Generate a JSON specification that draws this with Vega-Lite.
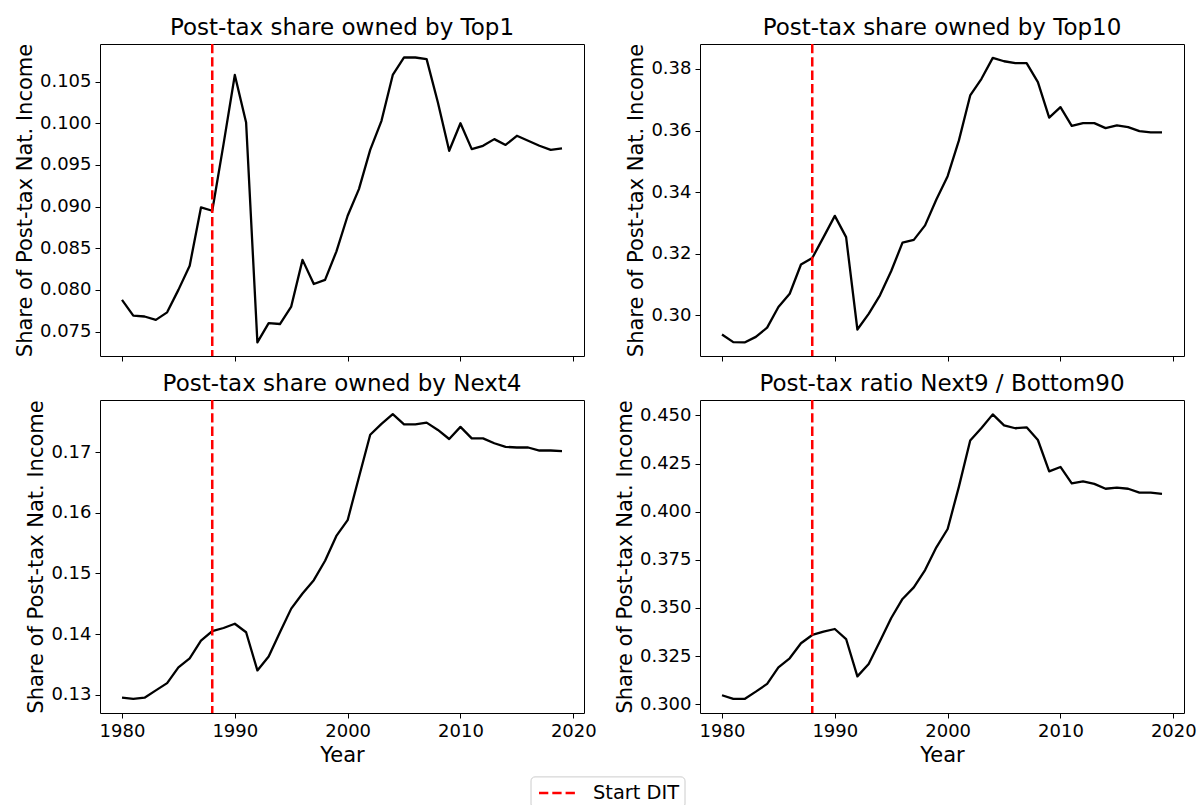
{
  "$schema": "https://vega.github.io/schema/vega-lite/v6.json",
  "padding": {"left": 13, "top": 16, "right": 5, "bottom": 0},
  "background": "white",
  "datasets": {
    "shares": [
      {"year": 1980, "top1": 0.0788, "top10": 0.2938, "next4": 0.1295, "ratio": 0.3047},
      {"year": 1981, "top1": 0.0769, "top10": 0.2913, "next4": 0.1293, "ratio": 0.3028},
      {"year": 1982, "top1": 0.0768, "top10": 0.2912, "next4": 0.1295, "ratio": 0.3028},
      {"year": 1983, "top1": 0.0764, "top10": 0.2930, "next4": 0.1307, "ratio": 0.3066},
      {"year": 1984, "top1": 0.0773, "top10": 0.2960, "next4": 0.1319, "ratio": 0.3106},
      {"year": 1985, "top1": 0.0800, "top10": 0.3027, "next4": 0.1345, "ratio": 0.3192},
      {"year": 1986, "top1": 0.0829, "top10": 0.3070, "next4": 0.1360, "ratio": 0.3239},
      {"year": 1987, "top1": 0.0899, "top10": 0.3165, "next4": 0.1389, "ratio": 0.3317},
      {"year": 1988, "top1": 0.0895, "top10": 0.3186, "next4": 0.1405, "ratio": 0.3360},
      {"year": 1989, "top1": 0.0975, "top10": 0.3254, "next4": 0.1410, "ratio": 0.3377},
      {"year": 1990, "top1": 0.1058, "top10": 0.3323, "next4": 0.1417, "ratio": 0.3391},
      {"year": 1991, "top1": 0.1001, "top10": 0.3254, "next4": 0.1403, "ratio": 0.3339},
      {"year": 1992, "top1": 0.0737, "top10": 0.2954, "next4": 0.1340, "ratio": 0.3145},
      {"year": 1993, "top1": 0.0760, "top10": 0.3005, "next4": 0.1363, "ratio": 0.3209},
      {"year": 1994, "top1": 0.0759, "top10": 0.3065, "next4": 0.1403, "ratio": 0.3327},
      {"year": 1995, "top1": 0.0780, "top10": 0.3144, "next4": 0.1442, "ratio": 0.3448},
      {"year": 1996, "top1": 0.0836, "top10": 0.3236, "next4": 0.1467, "ratio": 0.3547},
      {"year": 1997, "top1": 0.0807, "top10": 0.3245, "next4": 0.1489, "ratio": 0.3607},
      {"year": 1998, "top1": 0.0812, "top10": 0.3292, "next4": 0.1521, "ratio": 0.3697},
      {"year": 1999, "top1": 0.0846, "top10": 0.3376, "next4": 0.1562, "ratio": 0.3815},
      {"year": 2000, "top1": 0.0889, "top10": 0.3452, "next4": 0.1588, "ratio": 0.3910},
      {"year": 2001, "top1": 0.0921, "top10": 0.3568, "next4": 0.1659, "ratio": 0.4130},
      {"year": 2002, "top1": 0.0968, "top10": 0.3714, "next4": 0.1729, "ratio": 0.4369},
      {"year": 2003, "top1": 0.1003, "top10": 0.3768, "next4": 0.1747, "ratio": 0.4434},
      {"year": 2004, "top1": 0.1058, "top10": 0.3836, "next4": 0.1763, "ratio": 0.4505},
      {"year": 2005, "top1": 0.1079, "top10": 0.3825, "next4": 0.1746, "ratio": 0.4448},
      {"year": 2006, "top1": 0.1079, "top10": 0.3819, "next4": 0.1746, "ratio": 0.4433},
      {"year": 2007, "top1": 0.1077, "top10": 0.3819, "next4": 0.1749, "ratio": 0.4438},
      {"year": 2008, "top1": 0.1025, "top10": 0.3757, "next4": 0.1737, "ratio": 0.4372},
      {"year": 2009, "top1": 0.0967, "top10": 0.3642, "next4": 0.1722, "ratio": 0.4209},
      {"year": 2010, "top1": 0.1000, "top10": 0.3676, "next4": 0.1742, "ratio": 0.4232},
      {"year": 2011, "top1": 0.0969, "top10": 0.3615, "next4": 0.1723, "ratio": 0.4147},
      {"year": 2012, "top1": 0.0973, "top10": 0.3624, "next4": 0.1723, "ratio": 0.4157},
      {"year": 2013, "top1": 0.0981, "top10": 0.3624, "next4": 0.1715, "ratio": 0.4144},
      {"year": 2014, "top1": 0.0974, "top10": 0.3608, "next4": 0.1709, "ratio": 0.4119},
      {"year": 2015, "top1": 0.0985, "top10": 0.3617, "next4": 0.1708, "ratio": 0.4125},
      {"year": 2016, "top1": 0.0979, "top10": 0.3611, "next4": 0.1708, "ratio": 0.4119},
      {"year": 2017, "top1": 0.0973, "top10": 0.3598, "next4": 0.1703, "ratio": 0.4099},
      {"year": 2018, "top1": 0.0968, "top10": 0.3594, "next4": 0.1703, "ratio": 0.4099},
      {"year": 2019, "top1": 0.0970, "top10": 0.3594, "next4": 0.1702, "ratio": 0.4092}
    ],
    "events": [
      {"year": 1988, "event": "Start DIT"}
    ]
  },
  "config": {
    "font": "DejaVu Sans",
    "view": {"stroke": "black", "strokeWidth": 1},
    "axis": {
      "grid": false,
      "domain": false,
      "tickColor": "black",
      "tickSize": 5,
      "tickWidth": 1,
      "labelFont": "DejaVu Sans",
      "labelFontSize": 18,
      "labelColor": "black",
      "labelPadding": 4,
      "titleFont": "DejaVu Sans",
      "titleFontSize": 21,
      "titleFontWeight": "normal",
      "titleColor": "black",
      "titlePadding": 4
    },
    "title": {"font": "DejaVu Sans", "fontSize": 23, "fontWeight": "normal", "color": "black", "offset": 3},
    "legend": {
      "labelFont": "DejaVu Sans",
      "labelFontSize": 19.4,
      "labelColor": "black"
    }
  },
  "bounds": "flush",
  "columns": 2,
  "spacing": {"row": 44, "column": 116},
  "concat": [
    {
      "title": "Post-tax share owned by Top1",
      "width": 484,
      "height": 312,
      "layer": [
        {
          "data": {"name": "shares"},
          "mark": {"type": "line", "color": "black", "strokeWidth": 2.3, "strokeJoin": "round"},
          "encoding": {
            "x": {"field": "year", "type": "quantitative", "scale": {"domain": [1978.05, 2020.95], "nice": false, "zero": false}, "axis": {"values": [1980, 1990, 2000, 2010, 2020], "labels": false, "title": null}},
            "y": {"field": "top1", "type": "quantitative", "scale": {"domain": [0.07206, 0.10952], "nice": false, "zero": false}, "axis": {"values": [0.075, 0.08, 0.085, 0.09, 0.095, 0.1, 0.105], "format": ".3f", "title": "Share of Post-tax Nat. Income"}}
          }
        },
        {
          "data": {"name": "events"},
          "mark": {"type": "rule", "strokeWidth": 2.5, "strokeDash": [9.3, 4]},
          "encoding": {
            "x": {"field": "year", "type": "quantitative"},
            "stroke": {
              "field": "event",
              "type": "nominal",
              "scale": {"domain": ["Start DIT"], "range": ["#ff0000"]},
              "legend": {
                "title": null,
                "orient": "none",
                "legendX": 430.5,
                "legendY": 732.4,
                "symbolType": "M-1.95,0H1.95",
                "symbolSize": 400,
                "symbolStrokeWidth": 2.5,
                "symbolDash": [9.3, 4],
                "symbolOffset": 11.5,
                "labelOffset": 23,
                "padding": 5,
                "strokeColor": "#cccccc",
                "fillColor": "white",
                "cornerRadius": 4
              }
            }
          }
        }
      ]
    },
    {
      "title": "Post-tax share owned by Top10",
      "width": 484,
      "height": 312,
      "layer": [
        {
          "data": {"name": "shares"},
          "mark": {"type": "line", "color": "black", "strokeWidth": 2.3, "strokeJoin": "round"},
          "encoding": {
            "x": {"field": "year", "type": "quantitative", "scale": {"domain": [1978.05, 2020.95], "nice": false, "zero": false}, "axis": {"values": [1980, 1990, 2000, 2010, 2020], "labels": false, "title": null}},
            "y": {"field": "top10", "type": "quantitative", "scale": {"domain": [0.2868, 0.3881], "nice": false, "zero": false}, "axis": {"values": [0.3, 0.32, 0.34, 0.36, 0.38], "format": ".2f", "title": "Share of Post-tax Nat. Income"}}
          }
        },
        {
          "data": {"name": "events"},
          "mark": {"type": "rule", "color": "#ff0000", "strokeWidth": 2.5, "strokeDash": [9.3, 4]},
          "encoding": {
            "x": {"field": "year", "type": "quantitative"}
          }
        }
      ]
    },
    {
      "title": "Post-tax share owned by Next4",
      "width": 484,
      "height": 313,
      "layer": [
        {
          "data": {"name": "shares"},
          "mark": {"type": "line", "color": "black", "strokeWidth": 2.3, "strokeJoin": "round"},
          "encoding": {
            "x": {"field": "year", "type": "quantitative", "scale": {"domain": [1978.05, 2020.95], "nice": false, "zero": false}, "axis": {"values": [1980, 1990, 2000, 2010, 2020], "format": "d", "title": "Year"}},
            "y": {"field": "next4", "type": "quantitative", "scale": {"domain": [0.12697, 0.17864], "nice": false, "zero": false}, "axis": {"values": [0.13, 0.14, 0.15, 0.16, 0.17], "format": ".2f", "title": "Share of Post-tax Nat. Income"}}
          }
        },
        {
          "data": {"name": "events"},
          "mark": {"type": "rule", "color": "#ff0000", "strokeWidth": 2.5, "strokeDash": [9.3, 4]},
          "encoding": {
            "x": {"field": "year", "type": "quantitative"}
          }
        }
      ]
    },
    {
      "title": "Post-tax ratio Next9 / Bottom90",
      "width": 484,
      "height": 313,
      "layer": [
        {
          "data": {"name": "shares"},
          "mark": {"type": "line", "color": "black", "strokeWidth": 2.3, "strokeJoin": "round"},
          "encoding": {
            "x": {"field": "year", "type": "quantitative", "scale": {"domain": [1978.05, 2020.95], "nice": false, "zero": false}, "axis": {"values": [1980, 1990, 2000, 2010, 2020], "format": "d", "title": "Year"}},
            "y": {"field": "ratio", "type": "quantitative", "scale": {"domain": [0.2955, 0.45796], "nice": false, "zero": false}, "axis": {"values": [0.3, 0.325, 0.35, 0.375, 0.4, 0.425, 0.45], "format": ".3f", "title": "Share of Post-tax Nat. Income"}}
          }
        },
        {
          "data": {"name": "events"},
          "mark": {"type": "rule", "color": "#ff0000", "strokeWidth": 2.5, "strokeDash": [9.3, 4]},
          "encoding": {
            "x": {"field": "year", "type": "quantitative"}
          }
        }
      ]
    }
  ]
}
